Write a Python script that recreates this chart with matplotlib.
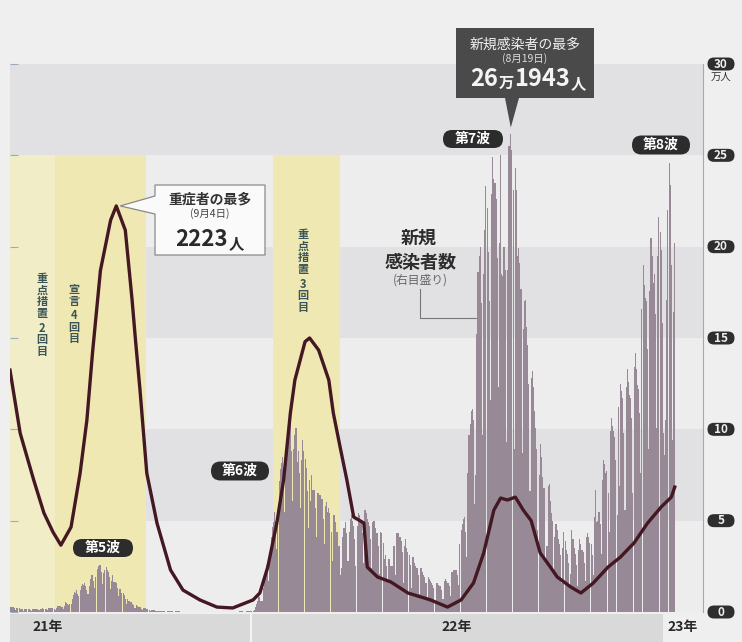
import datetime as dt
import matplotlib
matplotlib.use('Agg')
import matplotlib.pyplot as plt
import matplotlib.dates as mdates
from matplotlib.patches import Polygon, FancyBboxPatch

plt.rcParams['font.family'] = ['Noto Sans CJK JP', 'DejaVu Sans']

W, H = 742, 642

# daily new cases (万人), one row per week Mon..Sun, first Monday 2021-05-31
week_start = dt.date(2021, 5, 31)
weeks = [
    [0.18, 0.30, 0.30, 0.29, 0.26, 0.25, 0.22],
    [0.10, 0.20, 0.23, 0.21, 0.19, 0.18, 0.14],
    [0.08, 0.14, 0.17, 0.16, 0.15, 0.15, 0.12],
    [0.07, 0.14, 0.17, 0.17, 0.16, 0.16, 0.13],
    [0.09, 0.18, 0.19, 0.20, 0.18, 0.18, 0.15],
    [0.10, 0.20, 0.22, 0.23, 0.22, 0.23, 0.19],
    [0.12, 0.22, 0.32, 0.33, 0.34, 0.34, 0.28],
    [0.17, 0.34, 0.54, 0.52, 0.44, 0.37, 0.46],
    [0.42, 0.72, 0.92, 1.07, 1.05, 1.23, 1.01],
    [0.86, 1.23, 1.42, 1.52, 1.50, 1.57, 1.42],
    [1.21, 0.98, 1.44, 1.80, 2.04, 2.02, 1.71],
    [1.32, 1.93, 2.34, 2.51, 2.59, 2.55, 2.21],
    [1.55, 2.13, 2.30, 2.48, 2.29, 2.20, 1.90],
    [1.28, 1.72, 2.00, 1.66, 1.65, 1.60, 1.29],
    [0.86, 1.25, 1.24, 1.02, 1.03, 0.92, 0.72],
    [0.46, 0.69, 0.60, 0.58, 0.53, 0.45, 0.40],
    [0.20, 0.22, 0.39, 0.32, 0.29, 0.29, 0.18],
    [0.12, 0.20, 0.21, 0.20, 0.17, 0.16, 0.12],
    [0.06, 0.10, 0.11, 0.10, 0.09, 0.08, 0.07],
    [0.04, 0.06, 0.06, 0.06, 0.05, 0.05, 0.04],
    [0.02, 0.04, 0.04, 0.04, 0.03, 0.03, 0.03],
    [0.02, 0.03, 0.03, 0.03, 0.03, 0.03, 0.02],
    [0.01, 0.02, 0.02, 0.02, 0.02, 0.02, 0.01],
    [0.01, 0.02, 0.02, 0.02, 0.02, 0.01, 0.01],
    [0.01, 0.01, 0.02, 0.02, 0.01, 0.01, 0.01],
    [0.01, 0.01, 0.01, 0.01, 0.01, 0.01, 0.01],
    [0.01, 0.01, 0.01, 0.01, 0.01, 0.01, 0.01],
    [0.01, 0.01, 0.01, 0.01, 0.01, 0.01, 0.01],
    [0.01, 0.01, 0.02, 0.02, 0.02, 0.02, 0.01],
    [0.01, 0.02, 0.03, 0.03, 0.03, 0.03, 0.02],
    [0.02, 0.04, 0.05, 0.05, 0.05, 0.05, 0.05],
    [0.08, 0.11, 0.26, 0.45, 0.61, 0.85, 0.80],
    [0.60, 0.62, 1.32, 1.85, 2.20, 2.57, 2.56],
    [1.70, 3.09, 4.10, 4.64, 4.95, 5.45, 4.99],
    [3.44, 5.58, 7.16, 7.81, 8.17, 8.49, 7.81],
    [5.50, 7.90, 9.42, 10.00, 10.10, 10.43, 8.80],
    [6.10, 8.90, 9.70, 10.10, 8.20, 8.80, 7.60],
    [5.70, 8.30, 9.40, 8.80, 8.40, 7.90, 6.60],
    [4.60, 7.20, 6.10, 7.50, 6.70, 6.70, 5.70],
    [4.10, 6.50, 6.50, 6.40, 6.40, 6.20, 5.10],
    [3.70, 5.80, 6.00, 5.50, 5.70, 5.40, 4.40],
    [2.80, 5.30, 5.30, 4.90, 4.40, 4.40, 3.60],
    [2.00, 2.40, 4.10, 4.60, 4.60, 4.90, 4.30],
    [2.80, 4.40, 5.10, 5.30, 5.00, 4.70, 4.00],
    [2.50, 4.70, 5.40, 5.30, 5.10, 5.00, 4.30],
    [2.70, 5.60, 5.40, 5.10, 4.90, 4.70, 4.00],
    [2.40, 4.90, 5.00, 4.60, 4.30, 4.30, 3.60],
    [2.10, 4.40, 4.30, 3.80, 2.90, 3.10, 2.50],
    [1.70, 2.90, 2.90, 2.50, 2.50, 3.60, 3.60],
    [2.00, 4.30, 4.30, 4.30, 4.10, 3.90, 3.30],
    [1.60, 3.60, 4.00, 3.50, 3.30, 3.10, 2.60],
    [1.30, 3.00, 3.00, 2.70, 2.50, 2.40, 2.00],
    [1.00, 2.40, 2.40, 2.20, 2.00, 1.90, 1.60],
    [0.80, 1.90, 1.80, 1.70, 1.60, 1.50, 1.30],
    [0.60, 1.60, 1.60, 1.50, 1.40, 1.40, 1.20],
    [0.70, 1.70, 1.80, 1.70, 1.60, 1.60, 1.40],
    [0.90, 2.20, 2.30, 2.30, 2.30, 2.30, 2.00],
    [1.50, 3.70, 4.50, 4.80, 5.10, 5.20, 4.40],
    [3.00, 7.60, 9.70, 10.30, 11.00, 11.10, 10.50],
    [5.90, 7.50, 15.20, 18.60, 19.50, 20.00, 16.90],
    [9.70, 18.50, 20.90, 23.30, 22.10, 19.70, 17.00],
    [11.60, 22.90, 24.90, 23.70, 23.50, 22.60, 19.40],
    [12.30, 20.20, 25.00, 18.50, 18.40, 20.00, 18.70],
    [9.30, 18.70, 25.50, 25.50, 26.19, 25.30, 23.10],
    [8.90, 24.30, 23.10, 19.50, 19.90, 19.10, 17.70],
    [8.70, 15.50, 17.00, 17.10, 15.60, 14.60, 12.50],
    [6.60, 12.80, 13.20, 12.30, 11.00, 10.10, 8.90],
    [4.50, 7.50, 9.20, 8.50, 7.40, 6.80, 6.80],
    [2.90, 3.60, 6.90, 7.00, 6.10, 5.40, 5.00],
    [2.20, 4.10, 4.80, 4.50, 4.00, 3.70, 3.10],
    [1.60, 3.50, 4.40, 3.90, 3.40, 3.20, 2.70],
    [1.40, 2.10, 4.50, 4.00, 3.50, 3.20, 2.60],
    [1.40, 3.40, 4.00, 3.70, 3.40, 3.30, 2.70],
    [1.70, 4.10, 4.30, 4.10, 3.80, 3.70, 3.10],
    [2.00, 5.20, 6.70, 4.90, 5.00, 5.50, 4.80],
    [3.20, 7.20, 8.30, 8.10, 7.60, 7.70, 6.50],
    [4.40, 9.90, 10.60, 10.20, 9.90, 9.60, 8.30],
    [5.30, 11.20, 6.90, 12.50, 12.10, 11.70, 9.80],
    [5.60, 12.30, 13.30, 12.60, 11.90, 11.70, 10.60],
    [6.50, 13.40, 14.20, 13.30, 12.40, 12.20, 10.90],
    [7.60, 16.60, 19.00, 17.90, 17.20, 17.00, 14.40],
    [8.90, 17.60, 20.50, 19.50, 18.00, 18.50, 16.30],
    [10.10, 19.50, 21.60, 20.80, 19.80, 15.80, 9.80],
    [8.60, 10.50, 17.10, 22.00, 24.60, 23.40, 19.00],
    [9.40, 16.40, 20.20],
]
new_cases = [v for wk in weeks for v in wk]
case_days = [week_start + dt.timedelta(days=i) for i in range(len(new_cases))]

# severe cases (人), left scale 0-3000
severe_dates = [
    '2021-06-02', '2021-06-11', '2021-06-23', '2021-07-02', '2021-07-10',
    '2021-07-17', '2021-07-26', '2021-08-03', '2021-08-09', '2021-08-14',
    '2021-08-21', '2021-08-30', '2021-09-04', '2021-09-12', '2021-09-18',
    '2021-09-21', '2021-09-25', '2021-10-01', '2021-10-10', '2021-10-22',
    '2021-11-02', '2021-11-17', '2021-12-02', '2021-12-16', '2022-01-03',
    '2022-01-09', '2022-01-16', '2022-01-24', '2022-01-30', '2022-02-05',
    '2022-02-09', '2022-02-18', '2022-02-22', '2022-03-02', '2022-03-11',
    '2022-03-15', '2022-03-21', '2022-03-27', '2022-04-02', '2022-04-11',
    '2022-04-14', '2022-04-23', '2022-05-05', '2022-05-20', '2022-06-09',
    '2022-06-24', '2022-07-06', '2022-07-17', '2022-07-26', '2022-08-04',
    '2022-08-10', '2022-08-16', '2022-08-23', '2022-08-30', '2022-09-06',
    '2022-09-14', '2022-09-23', '2022-09-29', '2022-10-11', '2022-10-20',
    '2022-10-31', '2022-11-13', '2022-11-24', '2022-12-06', '2022-12-18',
    '2022-12-30', '2023-01-08', '2023-01-11',
]
severe = [
    1324, 979, 722, 542, 438, 366, 465, 760, 1050, 1420,
    1870, 2145, 2223, 2090, 1708, 1489, 1215, 760, 487, 230,
    120, 66, 27, 22, 66, 104, 246, 487, 722, 1089,
    1270, 1480, 1500, 1434, 1270, 1089, 903, 722, 520, 487,
    246, 192, 164, 104, 66, 27, 66, 159, 323, 558,
    624, 613, 629, 558, 500, 323, 246, 192, 137, 104,
    159, 246, 301, 378, 487, 575, 629, 684,
]
severe_days = [dt.date.fromisoformat(d) for d in severe_dates]

# emergency measures periods
measure_start = ['2021-05-31', '2021-07-12', '2022-01-21']
measure_end = ['2021-07-12', '2021-09-30', '2022-03-21']
measure_colors = ['#f1edc6', '#efe8b2', '#efe8b2']

severe_peak_day, severe_peak = '2021-09-04', 2223
cases_peak_day, cases_peak = '2022-08-19', 26.1943
yticks = [0, 5, 10, 15, 20, 25, 30]

fig = plt.figure(figsize=(W / 100, H / 100), dpi=100)
fig.patch.set_facecolor('#efefef')

ax = fig.add_axes([10 / W, (H - 612) / H, 693 / W, 548 / H])
ax.set_xlim(dt.date(2021, 6, 2), dt.date(2023, 2, 5))
ax.set_ylim(0, 30)
ax.set_facecolor('#ededee')
for lo in (5, 15, 25):
    ax.axhspan(lo, lo + 5, color='#e1e1e3', lw=0, zorder=0)
for s, e, c in zip(measure_start, measure_end, measure_colors):
    ax.axvspan(dt.date.fromisoformat(s), dt.date.fromisoformat(e),
               ymin=0, ymax=25 / 30, color=c, lw=0, zorder=1)
ax.bar(case_days, new_cases, width=0.95, color='#978a96', lw=0, zorder=2)

for s in ['top', 'left', 'bottom']:
    ax.spines[s].set_visible(False)
ax.spines['right'].set_color('#9aabbd')
ax.spines['right'].set_linewidth(0.8)
ax.yaxis.tick_right()
ax.set_yticks(yticks)
ax.tick_params(axis='y', direction='in', length=6, width=0.8,
               color='#9aabbd', labelright=False)
ax.set_xticks([])

ax2 = ax.twinx()
ax2.set_ylim(0, 3000)
ax2.plot(severe_days, severe, color='#441822', lw=2.4,
         solid_joinstyle='round', zorder=3)
ax2.set_axis_off()

# overlay in image pixels (y downward)
ov = fig.add_axes([0, 0, 1, 1])
ov.set_xlim(0, W)
ov.set_ylim(H, 0)
ov.set_axis_off()


def to_ov(axis, x, y):
    d = axis.transData.transform((x, y))
    return ov.transData.inverted().transform(d)


def pill(cx, cy, text, w, h, fs, fc='#2c2c2c', color='white'):
    ov.add_patch(FancyBboxPatch((cx - w / 2, cy - h / 2), w, h,
                                boxstyle='round,pad=0,rounding_size=%f' % (h / 2),
                                fc=fc, ec='none', zorder=6))
    ov.text(cx, cy, text, ha='center', va='center', fontsize=fs,
            fontweight='bold', color=color, zorder=7)


# right axis labels
xr = ax.get_xlim()[1]
for v in yticks:
    _, py = to_ov(ax, xr, v)
    pill(721, py, str(v), 27, 13, 8.5, fc='#2e2e2e', color='#eeeeee')
ov.text(721, 77, '万人', ha='center', va='center', fontsize=7.5, color='#333333')

# wave labels
pill(103, 548, '第5波', 60, 18, 10)
pill(240, 471, '第6波', 58, 19, 10)
pill(473, 139, '第7波', 60, 18, 10)
pill(661, 145, '第8波', 58, 19, 10)

# severe peak callout
tx, ty = to_ov(ax2, mdates.date2num(dt.date.fromisoformat(severe_peak_day)), severe_peak)
box1 = [(155, 185), (265, 185), (265, 255), (155, 255), (155, 214),
        (tx + 4, ty), (155, 196)]
ov.add_patch(Polygon(box1, closed=True, fc='#fafafa', ec='#8a8a8a', lw=0.9, zorder=5))
ov.text(210, 199, '重症者の最多', ha='center', va='center', fontsize=10,
        fontweight='bold', color='#333333', zorder=7)
ov.text(210, 214, '(9月4日)', ha='center', va='center', fontsize=7.5,
        color='#444444', zorder=7)
t = ov.text(175, 246, str(severe_peak), ha='left',
            va='baseline', fontsize=16, fontweight='bold', color='#2a2a2a', zorder=7)
ov.annotate('人', xy=(1, 0), xycoords=t, xytext=(1, 0), textcoords='offset points',
            ha='left', va='bottom', fontsize=11, fontweight='bold', color='#2a2a2a',
            zorder=7)

# new cases peak callout
px, py = to_ov(ax, mdates.date2num(dt.date.fromisoformat(cases_peak_day)), cases_peak)
box2 = [(456, 28), (594, 28), (594, 98), (519, 98), (px, py - 6), (505, 98), (456, 98)]
ov.add_patch(Polygon(box2, closed=True, fc='#4a4a4a', ec='none', zorder=5))
ov.text(525, 45, '新規感染者の最多', ha='center', va='center', fontsize=10,
        color='#f0f0f0', zorder=7)
ov.text(525, 59, '(8月19日)', ha='center', va='center', fontsize=7.5,
        color='#dddddd', zorder=7)
prev = ov.text(470, 86, '26', ha='left', va='baseline', fontsize=17,
               fontweight='bold', color='#f4f4f4', zorder=7)
for piece, fs in [('万', 11), ('1943', 17), ('人', 11)]:
    prev = ov.annotate(piece, xy=(1, 0), xycoords=prev, xytext=(0.5, 0),
                       textcoords='offset points', ha='left', va='bottom',
                       fontsize=fs, fontweight='bold', color='#f4f4f4', zorder=7)

# series label
ov.text(419, 238, '新規', ha='center', va='center', fontsize=13,
        fontweight='bold', color='#2d2d2d', zorder=7)
ov.text(421, 262, '感染者数', ha='center', va='center', fontsize=13,
        fontweight='bold', color='#2d2d2d', zorder=7)
ov.text(420, 280, '(右目盛り)', ha='center', va='center', fontsize=8.5,
        color='#666666', zorder=7)
ov.plot([420, 420, 476], [289, 318, 318], color='#777777', lw=0.8, zorder=7)

# vertical measure labels
vcol = '#3b5457'
for x, y, s in [(42, 272, '重点措置'), (42, 322, '2回目'),
                (74, 283, '宣言'), (74, 309, '4回目'),
                (303, 228, '重点措置'), (303, 278, '3回目')]:
    ov.text(x, y, '\n'.join(s), ha='center', va='top', fontsize=8,
            fontweight='bold', color=vcol, linespacing=0.85, zorder=7)

# bottom year strip
x22 = to_ov(ax, mdates.date2num(dt.date(2022, 1, 1)), 0)[0]
x23 = to_ov(ax, mdates.date2num(dt.date(2023, 1, 1)), 0)[0]
ov.add_patch(plt.Rectangle((10, 614), x23 - 10, 28, fc='#d9d9d9', ec='none', zorder=1))
ov.plot([x22, x22], [614, 642], color='#f4f4f4', lw=1.5, zorder=2)
for d, s in [(dt.date(2021, 7, 5), '21年'), (dt.date(2022, 7, 2), '22年'),
             (dt.date(2023, 1, 18), '23年')]:
    xx = to_ov(ax, mdates.date2num(d), 0)[0]
    ov.text(xx, 627, s, ha='center', va='center', fontsize=10,
            fontweight='bold', color='#2a2a2a', zorder=3)

fig.savefig('out.png', dpi=100, facecolor=fig.get_facecolor())
